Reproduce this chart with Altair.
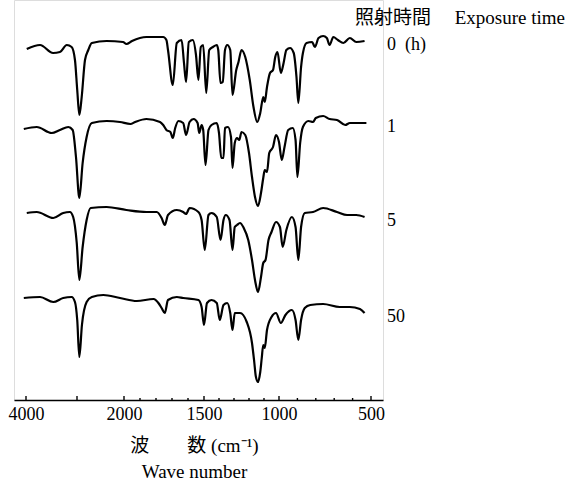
import altair as alt
import pandas as pd

# Exposure times (labels) and vertical stacking offsets of each trace
SERIES = ["0\u2002(h)", "1", "5", "50"]
OFFSETS = [264, 184, 94, 5]

# IR spectra: wave number (cm-1) and relative transmittance (%)
WN_0 = [3985, 3725, 3470, 3335, 3200, 3105, 3040, 2995, 2950, 2900, 2830, 2760, 2685, 2370,
        2020, 1985, 1950, 1860, 1755, 1735, 1725, 1695, 1670, 1640, 1625, 1612, 1595, 1570,
        1550, 1535, 1520, 1505, 1485, 1465, 1440, 1415, 1405, 1390, 1375, 1360, 1345, 1325,
        1310, 1285, 1270, 1250, 1225, 1195, 1170, 1145, 1125, 1105, 1095, 1080, 1060, 1040,
        1025, 1010, 990, 975, 960, 940, 920, 905, 895, 880, 870, 850, 820, 805, 785, 760,
        740, 725, 705, 680, 650, 615, 580, 535]
T_0 = [87, 91, 83, 84, 91, 89, 76, 46, 21, 39, 76, 86, 93, 95,
       94, 92, 95, 99, 99, 96, 86, 51, 93, 96, 73, 54, 94, 96,
       81, 56, 89, 91, 43, 86, 89, 91, 86, 53, 54, 86, 91, 86,
       41, 66, 74, 86, 79, 56, 29, 14, 23, 39, 34, 49, 63, 66,
       79, 84, 63, 73, 86, 88, 83, 59, 33, 69, 83, 93, 94, 89, 98, 100,
       98, 91, 99, 96, 93, 98, 94, 95]

WN_1 = [4045, 3790, 3495, 3335, 3170, 3085, 3020, 2950, 2880, 2795, 2685, 2370, 2085, 1960,
        1930, 1860, 1775, 1755, 1735, 1710, 1695, 1680, 1660, 1630, 1612, 1590, 1565, 1540,
        1530, 1515, 1505, 1490, 1470, 1450, 1415, 1400, 1385, 1370, 1360, 1340, 1320, 1310,
        1295, 1280, 1265, 1250, 1225, 1200, 1180, 1160, 1140, 1120, 1105, 1095, 1080, 1065,
        1040, 1020, 1000, 985, 970, 950, 925, 910, 900, 885, 870, 840, 815, 800, 760, 725,
        685, 640, 615, 525]
T_1 = [87, 89, 83, 86, 89, 86, 59, 18, 53, 79, 93, 95, 94, 92,
       94, 97, 94, 91, 86, 84, 78, 88, 95, 93, 81, 94, 97, 93,
       83, 91, 86, 51, 86, 91, 93, 83, 58, 58, 88, 89, 79, 48,
       73, 78, 76, 84, 81, 63, 39, 19, 10, 23, 38, 46, 44, 63,
       69, 81, 74, 56, 69, 86, 88, 76, 39, 73, 89, 95, 94, 98, 100, 97,
       96, 91, 93, 93]

WN_2 = [3985, 3790, 3465, 3270, 3140, 3075, 3005, 2950, 2880, 2795, 2710, 2370, 1985, 1860,
        1795, 1765, 1745, 1725, 1670, 1630, 1612, 1590, 1535, 1515, 1495, 1470, 1450, 1415,
        1390, 1370, 1355, 1330, 1310, 1295, 1280, 1260, 1235, 1205, 1180, 1160, 1140, 1120,
        1105, 1090, 1070, 1050, 1020, 995, 980, 960, 930, 910, 895, 880, 860, 815, 760, 685,
        630, 580, 535]
T_2 = [93, 94, 88, 93, 94, 89, 63, 26, 59, 86, 98, 99, 96, 94,
       94, 88, 81, 91, 96, 94, 92, 98, 94, 86, 56, 91, 93, 89,
       66, 86, 91, 86, 56, 79, 81, 83, 78, 66, 46, 26, 14, 29,
       43, 46, 66, 74, 84, 79, 59, 76, 89, 79, 46, 79, 93, 94, 98, 94,
       91, 91, 89]

WN_3 = [4045, 3725, 3465, 3270, 3105, 3040, 2995, 2950, 2895, 2795, 2685, 2440, 2085, 1920,
        1815, 1785, 1765, 1745, 1725, 1670, 1630, 1535, 1515, 1500, 1480, 1450, 1415, 1395,
        1370, 1345, 1325, 1310, 1295, 1260, 1215, 1180, 1165, 1155, 1140, 1125, 1115, 1105,
        1095, 1080, 1050, 1020, 990, 965, 930, 910, 895, 880, 860, 830, 760, 670, 615, 560, 535]
T_3 = [97, 98, 93, 97, 98, 93, 75, 38, 70, 93, 98, 100, 97, 94,
       96, 92, 87, 82, 95, 98, 97, 95, 88, 70, 92, 95, 92, 75,
       90, 92, 82, 65, 82, 82, 73, 52, 33, 19, 13, 23, 37, 50,
       47, 65, 78, 82, 72, 80, 85, 75, 55, 75, 87, 90, 91, 88, 88, 86, 82]

# Axis ticks (cm-1)
MAJOR_TICKS = [4000, 3000, 2000, 1500, 1000, 500]
MINOR_TICKS = [1900, 1800, 1700, 1600, 1400, 1300, 1200, 1100, 900, 800, 700, 600]
LABELED_TICKS = [4000, 2000, 1500, 1000, 500]

SERIF = "Liberation Serif, Noto Sans CJK JP"

rows = []
for name, off, wn, tr in zip(SERIES, OFFSETS, [WN_0, WN_1, WN_2, WN_3], [T_0, T_1, T_2, T_3]):
    for w, t in zip(wn, tr):
        rows.append({"series": name, "wn": w, "v": off + t})
spectra = pd.DataFrame(rows)

# Label each trace at the level where it ends
ends = spectra.loc[spectra.groupby("series", sort=False)["wn"].idxmin()].reset_index(drop=True)

ticks = pd.DataFrame(
    [{"wn": w, "base": 0, "len": 4} for w in MAJOR_TICKS]
    + [{"wn": w, "base": 0, "len": 2} for w in MINOR_TICKS]
)

# Split wave-number scale: 4000-2000 compressed, 2000-500 expanded
x_scale = alt.Scale(
    domain=[4245, 4000, 3000, 2000, 1500, 1000, 500, 435],
    range=[0, 12, 63, 110, 190, 265, 357, 369],
    zero=False,
    nice=False,
)
y_scale = alt.Scale(domain=[0, 400], zero=False, nice=False)

x_axis = alt.Axis(
    values=LABELED_TICKS,
    format="d",
    ticks=False,
    grid=False,
    domainColor="black",
    domainWidth=1.6,
    labelFont=SERIF,
    labelFontSize=18,
    labelColor="black",
    labelPadding=5,
    labelFlush=False,
    title=["波\u3000\u3000数 (cm\u207b\u00b9)", "Wave number"],
    titleFont=SERIF,
    titleFontSize=19,
    titleFontWeight="normal",
    titleColor="black",
    titleLineHeight=26,
    titleBaseline="alphabetic",
    titleX=180,
    titleY=51,
)

lines = alt.Chart(spectra).mark_line(
    color="black", strokeWidth=2.2, strokeJoin="round", interpolate="monotone", clip=False
).encode(
    x=alt.X("wn:Q", scale=x_scale, axis=x_axis),
    y=alt.Y("v:Q", scale=y_scale, axis=None),
    detail="series:N",
    order=alt.Order("wn:Q", sort="descending"),
)

tick_marks = alt.Chart(ticks).mark_rule(color="black", strokeWidth=1.4).encode(
    x=alt.X("wn:Q", scale=x_scale),
    y=alt.Y("base:Q", scale=y_scale),
    y2="len:Q",
)

labels = alt.Chart(ends).mark_text(
    align="left", baseline="middle", font=SERIF, fontSize=18, color="black", dy=4
).encode(
    x=alt.value(373),
    y=alt.Y("v:Q", scale=y_scale),
    text="series:N",
)

header = alt.Chart(pd.DataFrame({"t": ["照射時間\u3000 Exposure time"]})).mark_text(
    align="right", baseline="alphabetic", font=SERIF, fontSize=19, color="black"
).encode(
    x=alt.value(551),
    y=alt.value(24),
    text="t:N",
)

chart = alt.layer(lines, tick_marks, labels, header).properties(
    width=369,
    height=400,
    padding={"left": 14, "top": 0, "right": 184, "bottom": 83},
    autosize=alt.AutoSizeParams(type="none"),
).configure_view(stroke=None).configure(background="white")

chart.save("out.html", embed_options={"renderer": "svg", "actions": False})
